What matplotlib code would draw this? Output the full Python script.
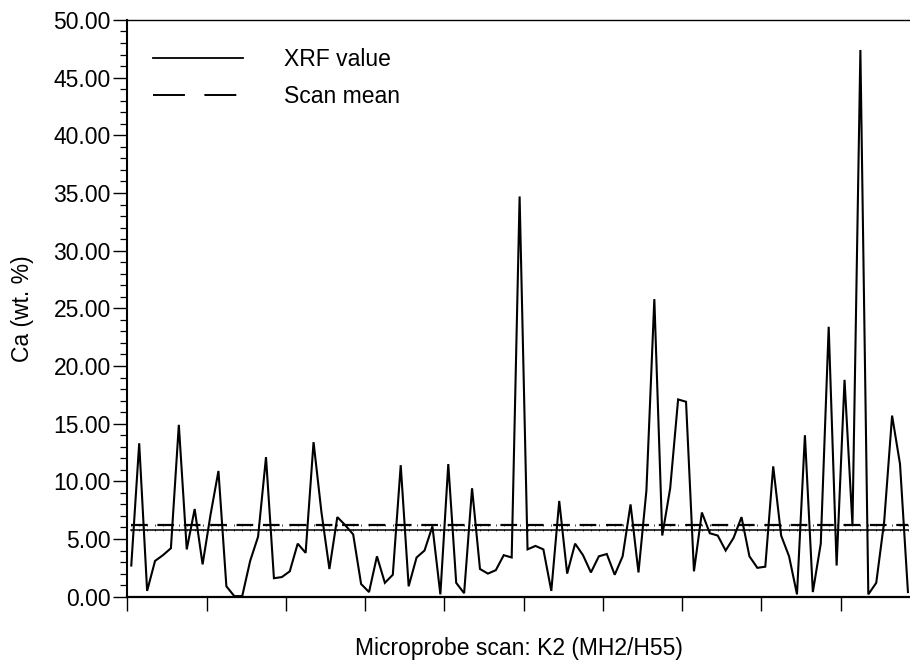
import numpy as np
import matplotlib
matplotlib.use("Agg")
import matplotlib.pyplot as plt
from matplotlib.lines import Line2D
from matplotlib.ticker import MultipleLocator, FormatStrFormatter

plt.rcParams['font.family'] = ['Liberation Sans', 'DejaVu Sans']
plt.rcParams['lines.scale_dashes'] = False

# Ca values along the microprobe scan (wt. %)
ca_values = [2.7, 13.3, 0.5, 3.1, 3.6, 4.2, 14.9, 4.1, 7.6, 2.8,
             7.1, 10.9, 0.9, 0.05, 0.05, 3.1, 5.2, 12.1, 1.6, 1.7,
             2.2, 4.6, 3.8, 13.4, 7.3, 2.4, 6.9, 6.2, 5.4, 1.1,
             0.4, 3.5, 1.2, 1.9, 11.4, 0.9, 3.4, 4.0, 6.1, 0.2,
             11.5, 1.2, 0.3, 9.4, 2.4, 2.0, 2.3, 3.6, 3.4, 34.7,
             4.1, 4.4, 4.1, 0.5, 8.3, 2.0, 4.6, 3.6, 2.1, 3.5,
             3.7, 1.9, 3.5, 8.0, 2.1, 9.2, 25.8, 5.3, 9.4, 17.1,
             16.9, 2.2, 7.3, 5.5, 5.3, 4.0, 5.1, 6.9, 3.5, 2.5,
             2.6, 11.3, 5.3, 3.5, 0.2, 14.0, 0.4, 4.6, 23.4, 2.7,
             18.8, 6.2, 47.4, 0.2, 1.2, 6.5, 15.7, 11.5, 0.4]
scan_mean = 6.2
base_line = 5.8

x = np.arange(len(ca_values)) + 0.5

fig = plt.figure(figsize=(9.1, 6.61), dpi=100)
ax = fig.add_axes([0.1399, 0.0973, 0.8601, 0.8725])

ax.plot(x, ca_values, color='black', lw=1.5, solid_joinstyle='miter')
ax.plot(x, np.full(len(x), base_line), color='black', lw=1.1,
        marker='|', markersize=2, markeredgewidth=0.5)
ax.plot(x, np.full(len(x), scan_mean), color='black', lw=1.6,
        dashes=(12, 7), marker='|', markersize=2, markeredgewidth=0.5)

ax.set_xlim(0, 98.76)
ax.set_ylim(0, 50)
ax.xaxis.set_major_locator(MultipleLocator(10))
ax.xaxis.set_ticklabels([])
ax.yaxis.set_major_locator(MultipleLocator(5))
ax.yaxis.set_minor_locator(MultipleLocator(1))
ax.yaxis.set_major_formatter(FormatStrFormatter('%.2f'))
ax.tick_params(axis='both', which='major', length=10, width=1.0,
               direction='out', labelsize=16.5, pad=2)
ax.tick_params(axis='y', which='minor', length=5, width=0.9, direction='out')

ax.spines['right'].set_visible(False)
ax.spines['left'].set_linewidth(1.5)
ax.spines['bottom'].set_linewidth(1.6)
ax.spines['top'].set_linewidth(1.0)

ax.set_ylabel('Ca (wt. %)', fontsize=16.5, labelpad=14)
ax.set_xlabel('Microprobe scan: K2 (MH2/H55)', fontsize=16.5, labelpad=17)

handles = [Line2D([], [], color='black', lw=1.3),
           Line2D([], [], color='black', lw=1.4, dashes=(23, 14))]
ax.legend(handles, ['XRF value', 'Scan mean'], loc='upper left',
          bbox_to_anchor=(0.007, 0.987), frameon=False, fontsize=16.5,
          handlelength=3.9, handletextpad=1.8, labelspacing=0.59)

fig.savefig('out.png', dpi=100)
